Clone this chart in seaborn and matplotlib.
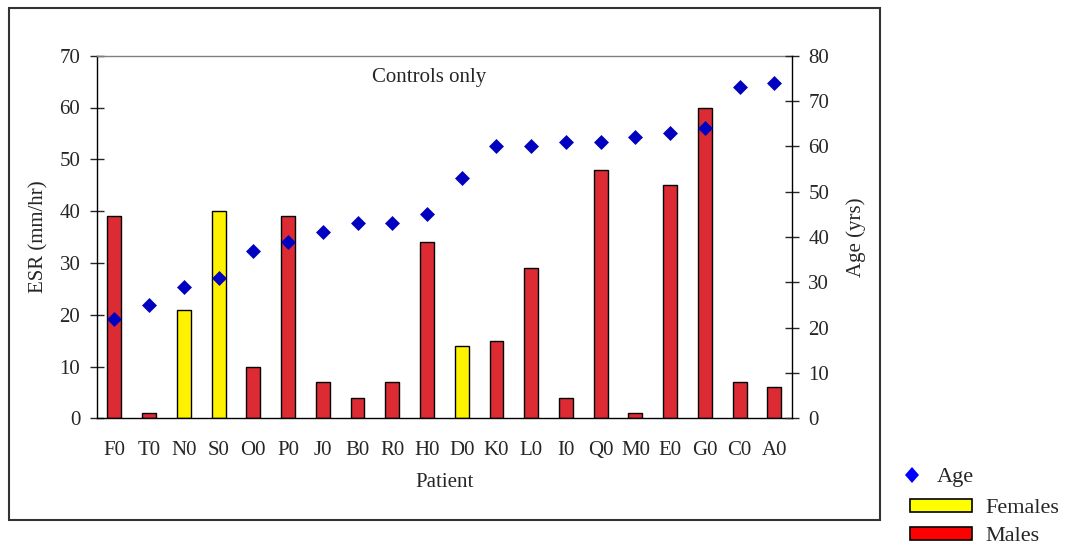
import numpy as np
import pandas as pd
import matplotlib
matplotlib.use("Agg")
import matplotlib.pyplot as plt
from matplotlib.patches import Rectangle, Patch
from matplotlib.lines import Line2D
from matplotlib.markers import MarkerStyle
from matplotlib.transforms import Affine2D
import seaborn as sns

# --- data -------------------------------------------------------------
patients = ["F0", "T0", "N0", "S0", "O0", "P0", "J0", "B0", "R0", "H0",
            "D0", "K0", "L0", "I0", "Q0", "M0", "E0", "G0", "C0", "A0"]
sex = ["M", "M", "F", "F", "M", "M", "M", "M", "M", "M",
       "F", "M", "M", "M", "M", "M", "M", "M", "M", "M"]
esr = [39, 1, 21, 40, 10, 39, 7, 4, 7, 34,
       14, 15, 29, 4, 48, 1, 45, 60, 7, 6]
age = [22, 25, 29, 31, 37, 39, 41, 43, 43, 45,
       53, 60, 60, 61, 61, 62, 63, 64, 73, 74]
esr_ticks = [0, 10, 20, 30, 40, 50, 60, 70]
age_ticks = [0, 10, 20, 30, 40, 50, 60, 70, 80]

df = pd.DataFrame({"patient": patients, "sex": sex, "esr": esr, "age": age})

# --- style ------------------------------------------------------------
sns.set_style("white")
plt.rcParams["font.family"] = ["Liberation Serif", "DejaVu Serif"]
plt.rcParams["font.size"] = 15

RED = "#DC2B33"
YELLOW = "#FFF200"
NAVY = "#0000C0"

fig = plt.figure(figsize=(10.7, 5.46), dpi=100)
ax = fig.add_axes([97 / 1070, 1 - 418.3 / 546, (791.7 - 97) / 1070, (418.3 - 55.7) / 546])

sns.barplot(data=df, x="patient", y="esr", hue="sex", order=patients,
            palette={"F": YELLOW, "M": RED}, dodge=False, width=0.4,
            edgecolor="black", linewidth=1.0, saturation=1, legend=False, ax=ax)

ax.set_ylim(0, 70)
ax.set_yticks(esr_ticks)
ax.set_xlim(-0.5, len(patients) - 0.5)
ax.set_xticks(np.arange(len(patients)))
ax.set_xticklabels(patients)
ax.set_xticks(np.arange(len(patients) + 1) - 0.5, minor=True)
ax.tick_params(axis="x", which="major", length=0, pad=16, labelsize=15)
ax.tick_params(axis="x", which="minor", direction="inout", length=10, width=1, color="black")
ax.tick_params(axis="y", direction="inout", length=10, width=1, pad=7, labelsize=15, left=True)
ax.set_xlabel("Patient", fontsize=15, labelpad=10)
ax.set_ylabel("ESR (mm/hr)", fontsize=15, labelpad=8)

for side in ("left", "bottom"):
    ax.spines[side].set_color("black")
    ax.spines[side].set_linewidth(1.0)
ax.spines["top"].set_color("#808080")
ax.spines["top"].set_linewidth(1.0)
ax.spines["right"].set_visible(False)

ax.text(0.478, 0.94, "Controls only", transform=ax.transAxes,
        ha="center", va="center", fontsize=15)

# --- age on secondary axis -------------------------------------------
ax2 = ax.twinx()
sns.scatterplot(data=df, x="patient", y="age", marker="D", s=58,
                color=NAVY, linewidth=0, ax=ax2, zorder=5)
ax2.set_ylim(0, 80)
ax2.set_yticks(age_ticks)
ax2.set_xlim(-0.5, len(patients) - 0.5)
ax2.tick_params(axis="y", direction="inout", length=10, width=1, pad=7, labelsize=15, right=True)
ax2.set_ylabel("Age (yrs)", fontsize=15, labelpad=12, rotation=90)
for side in ("left", "top", "bottom"):
    ax2.spines[side].set_visible(False)
ax2.spines["right"].set_color("black")
ax2.spines["right"].set_linewidth(1.0)

# --- outer frame ------------------------------------------------------
fig.patches.append(Rectangle((8.5 / 1070, 1 - 520 / 546), (880 - 8.5) / 1070,
                             (520 - 7.5) / 546, transform=fig.transFigure,
                             fill=False, edgecolor="#333333", linewidth=1.5))

# --- legends ----------------------------------------------------------
diamond = MarkerStyle("D", transform=Affine2D().scale(0.78, 1.0))
age_handle = Line2D([], [], linestyle="none", marker=diamond, markersize=8.5,
                    color="#0000FF", markeredgewidth=0)
leg1 = fig.legend([age_handle], ["Age"], loc="center left",
                  bbox_to_anchor=(903 / 1070, 1 - 477 / 546), frameon=False,
                  fontsize=16, handlelength=0.8, handletextpad=0.7,
                  borderpad=0, borderaxespad=0)

bar_handles = [Patch(facecolor="#FFFF00", edgecolor="black", linewidth=1.2),
               Patch(facecolor="#FF0000", edgecolor="black", linewidth=1.2)]
leg2 = fig.legend(bar_handles, ["Females", "Males"], loc="upper left",
                  bbox_to_anchor=(910 / 1070, 1 - 499 / 546), frameon=False,
                  fontsize=16, handlelength=2.8, handleheight=0.5,
                  handletextpad=0.6, labelspacing=0.4,
                  borderpad=0, borderaxespad=0)

fig.savefig("out.png", dpi=100)
